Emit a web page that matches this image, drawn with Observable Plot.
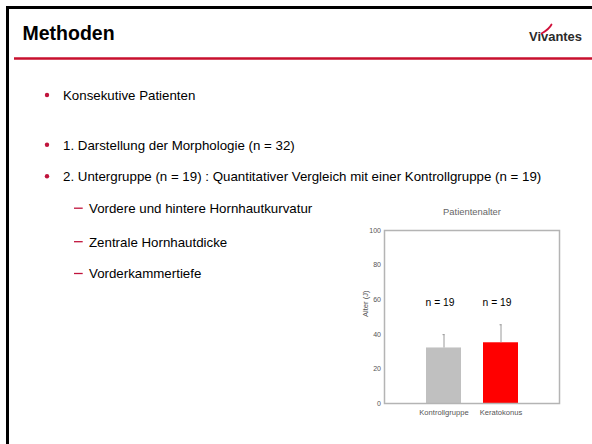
<!DOCTYPE html>
<html>
<head>
<meta charset="utf-8">
<script src="https://cdn.jsdelivr.net/npm/d3@7"></script>
<script src="https://cdn.jsdelivr.net/npm/@observablehq/plot@0.6"></script>
<style>
  html, body { margin: 0; padding: 0; background: #fff; }
  #slide { position: relative; width: 592px; height: 444px; overflow: hidden; background: #fff; font-family: "Liberation Sans", Arial, sans-serif; }
  #deco { position: absolute; left: 0; top: 0; }
  #chart { position: absolute; left: 340px; top: 200px; }
</style>
</head>
<body>
<div id="slide">
<svg id="deco" width="592" height="444" xmlns="http://www.w3.org/2000/svg" font-family="Liberation Sans, Arial, sans-serif">
  <rect x="7.5" y="7.5" width="700" height="600" fill="none" stroke="#000" stroke-width="3"/>
  <text x="22.5" y="39.5" font-size="19.5" font-weight="bold" fill="#000">Methoden</text>
  <text x="529" y="40.7" font-size="13" font-weight="bold" fill="#2b2b2b" textLength="53" lengthAdjust="spacingAndGlyphs">Vivantes</text>
  <path d="M541.5,33.5 C546,31 549.5,28.5 551.5,24.5" fill="none" stroke="#d0103a" stroke-width="1.8" stroke-linecap="round"/>
  <line x1="14" y1="58.5" x2="600" y2="58.5" stroke="#c8102e" stroke-width="2.4"/>
  <g fill="#c0143c">
    <circle cx="47" cy="95" r="2.2"/>
    <circle cx="47" cy="144.7" r="2.2"/>
    <circle cx="47" cy="176.3" r="2.2"/>
  </g>
  <g stroke="#c0143c" stroke-width="1.3">
    <line x1="74" y1="208.2" x2="82.7" y2="208.2"/>
    <line x1="74" y1="241.7" x2="82.7" y2="241.7"/>
    <line x1="74" y1="273.5" x2="82.7" y2="273.5"/>
  </g>
  <g font-size="13.3" fill="#000">
    <text x="63" y="99.8">Konsekutive Patienten</text>
    <text x="63" y="149.5">1. Darstellung der Morphologie (n = 32)</text>
    <text x="63" y="181.1">2. Untergruppe (n = 19) : Quantitativer Vergleich mit einer Kontrollgruppe (n = 19)</text>
    <text x="89" y="213">Vordere und hintere Hornhautkurvatur</text>
    <text x="89" y="246.5">Zentrale Hornhautdicke</text>
    <text x="89" y="278.3">Vorderkammertiefe</text>
  </g>
</svg>
<div id="chart"></div>
</div>
<script>
const categories = ["Kontrollgruppe", "Keratokonus"];
const means = [32.1, 35.1];
const sds = [7.7, 10.4];
const nLabels = ["n = 19", "n = 19"];
const barColors = ["#c0c0c0", "#ff0000"];
const yTicks = [0, 20, 40, 60, 80, 100];
const chartTitle = "Patientenalter";
const yLabel = "Alter (J)";
const nLabelY = 58;

const data = categories.map((c, i) => ({
  cat: c, mean: means[i], upper: means[i] + sds[i], n: nLabels[i], color: barColors[i]
}));

const chart = Plot.plot({
  width: 220,
  height: 230,
  marginLeft: 44,
  marginRight: 1,
  marginTop: 30,
  marginBottom: 27,
  style: { fontFamily: "Liberation Sans, Arial, sans-serif", background: "transparent", overflow: "visible" },
  x: { domain: categories, range: [62.7, 201], padding: 0.385, label: null },
  y: { domain: [0, 100], label: null },
  color: { type: "identity" },
  marks: [
    Plot.barY(data, { x: "cat", y: "mean", fill: "color" }),
    Plot.ruleX(data, { x: "cat", y1: "mean", y2: "upper", stroke: "#9a9a9a", strokeWidth: 1 }),
    Plot.tickY(data, { x: "cat", y: "upper", stroke: "#9a9a9a", strokeWidth: 1, insetLeft: 16.5, insetRight: 16.5 }),
    Plot.text(data, { x: "cat", y: () => nLabelY, text: "n", fontSize: 10.3, dx: -4, fill: "#000" }),
    Plot.frame({ stroke: "#b4b4b4", strokeWidth: 1.5 }),
    Plot.axisY({ ticks: yTicks, tickSize: 0, tickPadding: 3.5, fontSize: 7, fill: "#555", label: null }),
    Plot.axisX({ tickSize: 0, tickPadding: 6, fontSize: 7.6, fill: "#555", label: null }),
    Plot.text([chartTitle], { frameAnchor: "top", dy: -22, fontSize: 9.4, fill: "#666" }),
    Plot.text([yLabel], { frameAnchor: "left", dx: -19, rotate: -90, fontSize: 7.6, fill: "#555" })
  ]
});
document.getElementById("chart").appendChild(chart);
</script>
</body>
</html>
